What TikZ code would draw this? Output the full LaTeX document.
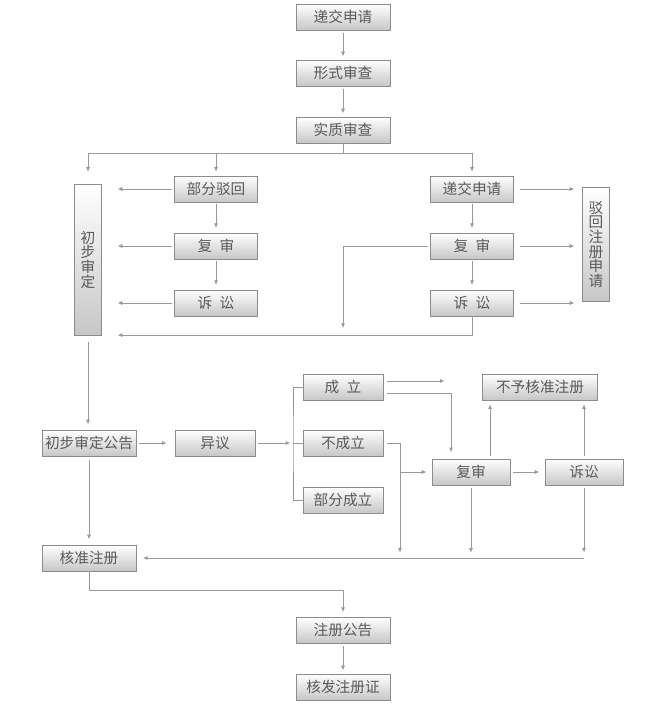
\documentclass[tikz,border=0pt]{standalone}
\usepackage{fontspec}
\newfontfamily\cjk{Noto Sans CJK SC}
\usetikzlibrary{arrows.meta}
\usetikzlibrary{shadows}

\begin{document}
\begin{tikzpicture}[x=0.75pt, y=-0.75pt,
	box/.style={draw=black!45, top color=white, bottom color=black!22, text=black!65, inner sep=0pt, minimum width=70.5pt, minimum height=19.5pt, font=\cjk\fontsize{11}{11}\selectfont, drop shadow={shadow xshift=0.6pt, shadow yshift=-0.6pt, opacity=0.35, fill=black}},
	midbox/.style={box, minimum width=62pt},
	vbox/.style={box, align=center, minimum width=20pt},
	conn/.style={draw=black!40, line width=0.6pt},
	arr/.style={conn, -{Latex[length=3.5pt, width=3pt]}, shorten >=2.5pt}]
	
	\useasboundingbox (0, 0) rectangle (670, 717);
	
	\node [box] at (343, 17) (apply){递交申请};
	\node [box] at (343, 73) (formal){形式审查};
	\node [box] at (343, 130) (subst){实质审查};
	
	\node [vbox, minimum height=113pt] at (88, 259.5) (prelim){初\\步\\审\\定};
	\node [midbox] at (216, 189) (partrej){部分驳回};
	\node [midbox] at (216, 246) (review1){复\hspace{0.5em}审};
	\node [midbox] at (216, 303) (suit1){诉\hspace{0.5em}讼};
	
	\node [midbox] at (472, 189) (apply2){递交申请};
	\node [midbox] at (472, 246) (review2){复\hspace{0.5em}审};
	\node [midbox] at (472, 303) (suit2){诉\hspace{0.5em}讼};
	\node [vbox, minimum height=85.5pt] at (596, 244.5) (reject){驳\\回\\注\\册\\申\\请};
	
	\node [box] at (89, 443) (notice){初步审定公告};
	\node [midbox, minimum width=60pt] at (215, 443) (oppo){异议};
	\node [midbox, minimum width=60pt] at (343, 387) (upheld){成\hspace{0.5em}立};
	\node [midbox, minimum width=60pt] at (343, 443) (notup){不成立};
	\node [midbox, minimum width=60pt] at (343, 500) (partup){部分成立};
	\node [midbox, minimum width=58.5pt] at (471, 472) (review3){复审};
	\node [midbox, minimum width=58.5pt] at (584, 472) (suit3){诉讼};
	\node [box, minimum width=86pt] at (540, 387) (refuse){不予核准注册};
	
	\node [box] at (89, 558) (approve){核准注册};
	\node [box] at (343, 630) (regnote){注册公告};
	\node [box] at (343, 687) (cert){核发注册证};
	
	\coordinate (fork) at (343, 153);
	\coordinate (ret) at (343, 334);
	\coordinate (bar) at (293, 443);
	\coordinate (outA) at (448, 381);
	\coordinate (inA) at (451, 459);
	\coordinate (split) at (400, 472);
	\coordinate (up3) at (490, 459);
	\coordinate (join) at (343, 590);
	
	% examination
	\draw [arr, shorten <=2pt] (apply) -- (formal);
	\draw [arr, shorten <=2pt] (formal) -- (subst);
	\draw [conn] (subst) -- (fork);
	\draw [arr, shorten >=9pt] (fork) -| (prelim.north);
	\draw [arr, shorten >=3pt] (fork) -| (partrej.north);
	\draw [arr, shorten >=3pt] (fork) -| (apply2.north);
	
	\foreach \a/\b in {partrej/review1, review1/suit1, apply2/review2, review2/suit2}{
		\draw [arr, shorten <=1pt, shorten >=3.5pt] (\a) -- (\b);
	}
	\foreach \n in {partrej, review1, suit1}{
		\draw [arr, shorten <=1.5pt, shorten >=12pt] (\n.west) -- (prelim.east |- \n);
	}
	\foreach \n in {apply2, review2, suit2}{
		\draw [arr, shorten <=4.5pt, shorten >=6pt] (\n.east) -- (reject.west |- \n);
	}
	\draw [arr, shorten >=12pt] (suit2.south) |- (prelim.south east);
	\draw [arr, shorten <=1.5pt, shorten >=4.5pt] (review2.west) -| (ret);
	
	% opposition
	\draw [arr, shorten <=5pt, shorten >=4pt] (prelim.south) -- (prelim.south |- notice.north);
	\draw [arr, shorten <=2pt, shorten >=6pt] (notice) -- (oppo);
	\draw [arr, shorten <=2pt, shorten >=2pt] (oppo) -- (bar);
	\draw [conn] (upheld.west) -| (bar) |- (partup.west);
	\draw [conn] (bar) -- (notup.west);
	
	\draw [arr, shorten <=3pt] ([yshift=4.5pt]upheld.east) -- (outA);
	\draw [arr, shorten <=3pt, shorten >=5pt] ([yshift=-4.5pt]upheld.east) -| (inA);
	\draw [conn, shorten <=3pt] (notup.east) -| (split);
	\draw [arr, shorten >=4pt] (split) -- (split |- approve);
	\draw [arr, shorten >=4pt] (split) -- (review3.west);
	
	\draw [arr, shorten <=2pt, shorten >=4pt] (review3) -- (suit3);
	\draw [arr, shorten <=2pt, shorten >=3pt] (up3) -- (up3 |- refuse.south);
	\draw [arr, shorten <=2pt, shorten >=3pt] (suit3.north) -- (suit3.north |- refuse.south);
	\draw [arr, shorten <=2pt, shorten >=4pt] (review3.south) -- (review3.south |- approve);
	\draw [arr, shorten <=2pt, shorten >=4pt] (suit3.south) -- (suit3.south |- approve);
	\draw [arr, shorten >=5pt] (suit3.south |- approve) -- (approve.east);
	
	% registration
	\draw [arr, shorten <=3pt, shorten >=4pt] (notice.south) -- (approve.north);
	\draw [arr, shorten >=3.5pt] (approve.south) |- (join) -- (regnote.north);
	\draw [arr, shorten <=2pt] (regnote) -- (cert);
	
\end{tikzpicture}
\end{document}
